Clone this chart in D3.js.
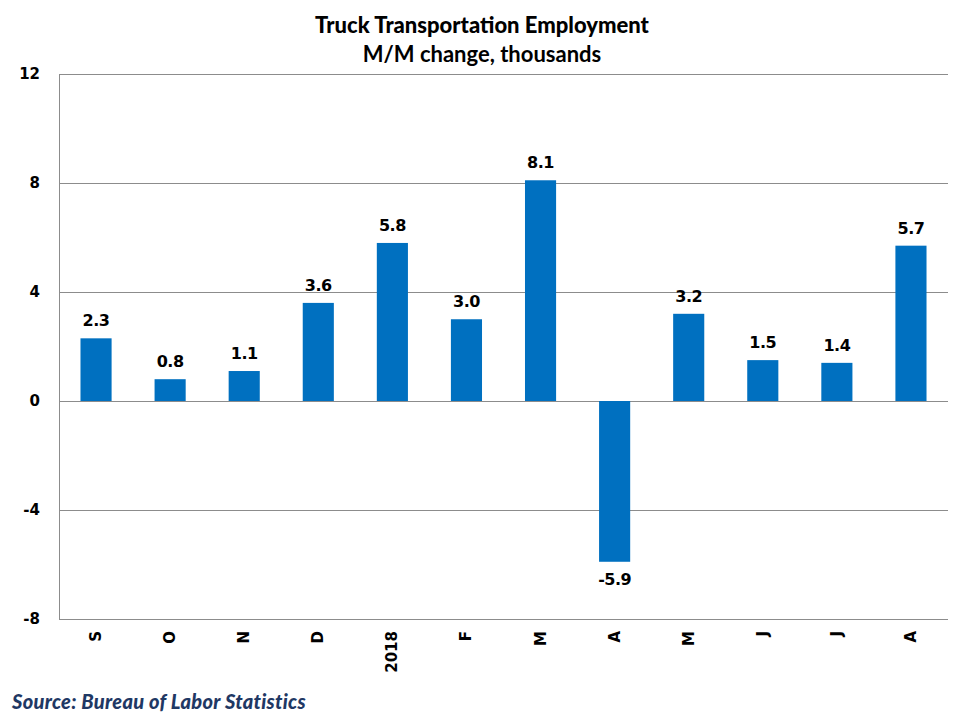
<!DOCTYPE html>
<html>
<head>
<meta charset="utf-8">
<script src="https://cdn.jsdelivr.net/npm/d3@7/dist/d3.min.js"></script>
<style>
  html, body { margin: 0; padding: 0; background: #fff; }
  svg { display: block; }
</style>
</head>
<body>
<svg id="chart" width="963" height="728"></svg>
<script>
const categories = ["S", "O", "N", "D", "2018", "F", "M", "A", "M", "J", "J", "A"];
const values = [2.3, 0.8, 1.1, 3.6, 5.8, 3.0, 8.1, -5.9, 3.2, 1.5, 1.4, 5.7];
const yTicks = [-8, -4, 0, 4, 8, 12];
const titleLines = ["Truck Transportation Employment", "M/M change, thousands"];
const sourceText = "Source: Bureau of Labor Statistics";

const svg = d3.select("#chart");
const margin = { left: 59, right: 963 - 948, top: 74, bottom: 728 - 619 };
const W = 963, H = 728;

const x = d3.scaleBand()
  .domain(d3.range(categories.length))
  .range([margin.left, W - margin.right])
  .paddingInner(0.58)
  .paddingOuter(0.29);

const y = d3.scaleLinear().domain([-8, 12]).range([H - margin.bottom, margin.top]);

// gridlines
svg.append("g")
  .selectAll("line")
  .data(yTicks)
  .join("line")
  .attr("x1", margin.left)
  .attr("x2", W - margin.right)
  .attr("y1", d => Math.round(y(d)) + 0.5)
  .attr("y2", d => Math.round(y(d)) + 0.5)
  .attr("stroke", "#8c8c8c")
  .attr("stroke-width", 1);

// left axis line
svg.append("line")
  .attr("x1", margin.left + 0.5).attr("x2", margin.left + 0.5)
  .attr("y1", y(12)).attr("y2", y(-8))
  .attr("stroke", "#8c8c8c").attr("stroke-width", 1);

// y tick labels
svg.append("g")
  .selectAll("text")
  .data(yTicks)
  .join("text")
  .attr("x", 40)
  .attr("y", d => y(d))
  .attr("dy", "0.35em")
  .attr("text-anchor", "end")
  .attr("font-family", "DejaVu Sans")
  .attr("font-weight", "bold")
  .attr("font-size", 15)
  .attr("fill", "#000")
  .text(d => d);

// bars
svg.append("g")
  .selectAll("rect")
  .data(values)
  .join("rect")
  .attr("x", (d, i) => x(i))
  .attr("width", x.bandwidth())
  .attr("y", d => y(Math.max(0, d)))
  .attr("height", d => Math.abs(y(d) - y(0)))
  .attr("fill", "#0070C0");

// data labels
svg.append("g")
  .selectAll("text")
  .data(values)
  .join("text")
  .attr("x", (d, i) => x(i) + x.bandwidth() / 2)
  .attr("y", d => d >= 0 ? y(d) - 12 : y(d) + 23)
  .attr("text-anchor", "middle")
  .attr("font-family", "DejaVu Sans")
  .attr("font-weight", "bold")
  .attr("font-size", 16)
  .attr("letter-spacing", "-0.5")
  .attr("fill", "#000")
  .text(d => d.toFixed(1));

// x labels (rotated)
svg.append("g")
  .selectAll("text")
  .data(categories)
  .join("text")
  .attr("transform", (d, i) => `translate(${x(i) + x.bandwidth() / 2 + 5},${y(-8) + 12}) rotate(-90)`)
  .attr("text-anchor", "end")
  .attr("font-family", "DejaVu Sans")
  .attr("font-weight", "bold")
  .attr("font-size", 15)
  .attr("fill", "#000")
  .text(d => d);

// title
svg.append("g")
  .selectAll("text")
  .data(titleLines)
  .join("text")
  .attr("x", 482)
  .attr("y", (d, i) => 33 + i * 29)
  .attr("text-anchor", "middle")
  .attr("font-family", "Lato, 'Open Sans', sans-serif")
  .attr("font-weight", (d, i) => i === 0 ? 900 : 700)
  .attr("font-size", 22)
  .attr("letter-spacing", "0")
  .attr("fill", "#000")
  .text(d => d);

// source
svg.append("text")
  .attr("x", 12)
  .attr("y", 709)
  .attr("font-family", "Lato, 'Open Sans', sans-serif")
  .attr("font-weight", 900)
  .attr("font-style", "italic")
  .attr("font-size", 20)
  .attr("letter-spacing", "0.3")
  .attr("fill", "#1F3864")
  .text(sourceText);
</script>
</body>
</html>
